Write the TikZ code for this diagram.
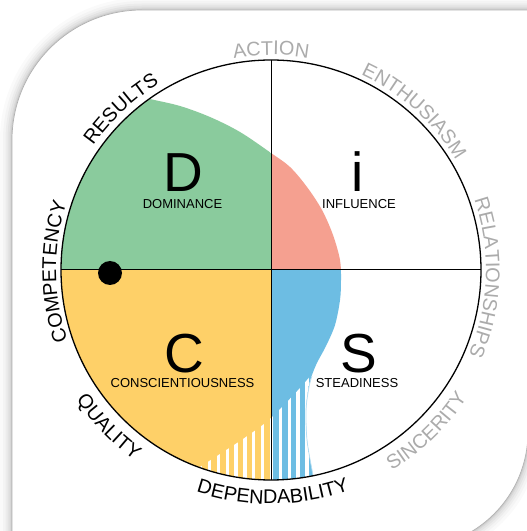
\documentclass[tikz,border=0pt]{standalone}
\usepackage{fontspec}
\setmainfont{Liberation Sans}
\usetikzlibrary{decorations.text}
\definecolor{dgreen}{HTML}{8ACB9D}
\definecolor{ipink}{HTML}{F5A090}
\definecolor{cyellow}{HTML}{FED068}
\definecolor{sblue}{HTML}{6DBDE3}
\definecolor{labgray}{HTML}{ABABAB}
\definecolor{edgeblue}{HTML}{B5DDF2}
\newcommand\labfont{\fontsize{19.8}{19.8}\selectfont}
\newcommand\bigletter{\fontsize{55}{55}\selectfont}
\newcommand\subfont{\fontsize{13}{13}\selectfont}
\begin{document}
\begin{tikzpicture}[x=1pt,y=1pt,
  lab/.style 2 args={decorate, decoration={text along path, text align=center, text color=#2, text={|\labfont|#1}}},
  bigl/.style={anchor=base, font=\bigletter, inner sep=0},
  subl/.style={anchor=base, font=\subfont, inner sep=0},
  axis/.style={line width=1pt, black}]
\useasboundingbox (0,0) rectangle (527,531);
\fill[white] (0,0) rectangle (527,531);
\begin{scope}[shift={(0,531)}, yscale=-1]
  \def\bgshape{(12,548) -- (12,140) arc[start angle=180,end angle=270,radius=130] -- (528,10) -- (528,432) arc[start angle=0,end angle=90,radius=116] -- cycle}
  \def\blob{(-10,560) -- (-10,-10) -- (130,-10) -- plot[smooth, tension=0.55] coordinates {(130,94) (150,99) (180,106) (210,117) (240,132) (271,153) (290,167) (307,187) (322,210) (333,235) (340,260) (341,280) (340,300) (335,325) (326,346) (316,365) (309,385) (306,410) (307,440) (312,470) (316,490)} -- (316,560) -- cycle}
  \def\lowreg{(150,560) -- (150,500) -- plot[smooth, tension=0.5] coordinates {(170,487) (200,467) (220,454) (240,441) (260,427) (271,418) (285,404) (300,388) (312,374) (322,360)} -- (400,330) -- (400,560) -- cycle}
  % background card with soft shadow
  \foreach \w/\o in {24/0.02,18/0.025,13/0.03,9/0.035,5/0.045,2.5/0.06} {\draw[line width=\w pt, black, opacity=\o] \bgshape;}
  \fill[white] \bgshape;
  \draw[black!30, line width=0.7pt] \bgshape;
  % disc
  \coordinate (c) at (271,270);
  \begin{scope}
    \clip (c) circle (210);
    \clip \blob;
    \fill[dgreen] (0,0) rectangle (271,270);
    \fill[ipink] (271,0) rectangle (527,270);
    \fill[cyellow] (0,270) rectangle (271,531);
    \fill[sblue] (271,270) rectangle (527,531);
    \clip \lowreg;
    \foreach \k in {-4,...,14} {\fill[white] ({200.7+8.85*\k-1.65},250) rectangle ++(3.3,300);}
  \end{scope}
  \begin{scope}
    \clip (c) circle (210);
    \draw[edgeblue, line width=0.7pt] plot[smooth] coordinates {(312,376) (309,387) (306,410) (307,440) (312,470) (315,485)};
  \end{scope}
  \coordinate (ctop) at (271,60);
  \coordinate (cbot) at (271,480);
  \coordinate (cleft) at (61,270);
  \coordinate (cright) at (481,270);
  \draw[axis] (ctop) -- (cbot);
  \draw[axis] (cleft) -- (cright);
  \draw[line width=1.3pt] (c) circle (210);
  \node[circle, fill=black, inner sep=0, minimum size=24pt] (dot) at (110,273) {};
  \node[bigl] (D) at (183.5,192) {D};
  \node[subl] (Dl) at (182.5,209) {DOMINANCE};
  \node[bigl] (I) at (357.5,192) {i};
  \node[subl] (Il) at (359,209) {INFLUENCE};
  \node[bigl] (C) at (184,373) {C};
  \node[subl] (Cl) at (182.5,388) {CONSCIENTIOUSNESS};
  \node[bigl] (S) at (358.5,373) {S};
  \node[subl] (Sl) at (357,388) {STEADINESS};
\end{scope}
% curved labels (normal coordinates, centre at (271,261))
\coordinate (O) at (271,261);
\path[lab={ACTION}{labgray}] ([shift={(135:215)}]O) arc[start angle=135,end angle=45,radius=215];
\path[lab={ENTHUSIASM}{labgray}] ([shift={(93:215)}]O) arc[start angle=93,end angle=3,radius=215];
\path[lab={RELATIONSHIPS}{labgray}] ([shift={(43:215)}]O) arc[start angle=43,end angle=-47,radius=215];
\path[lab={COMPETENCY}{black}] ([shift={(225.5:215)}]O) arc[start angle=225.5,end angle=135.5,radius=215];
\path[lab={RESULTS}{black}] ([shift={(178:217)}]O) arc[start angle=178,end angle=88,radius=217];
\path[lab={SINCERITY}{labgray}] ([shift={(-91:234)}]O) arc[start angle=-91,end angle=-1,radius=234];
\path[lab={DEPENDABILITY}{black}] ([shift={(-134.5:234)}]O) arc[start angle=-134.5,end angle=-44.5,radius=234];
\path[lab={QUALITY}{black}] ([shift={(179:234)}]O) arc[start angle=179,end angle=269,radius=234];
\end{tikzpicture}
\end{document}
